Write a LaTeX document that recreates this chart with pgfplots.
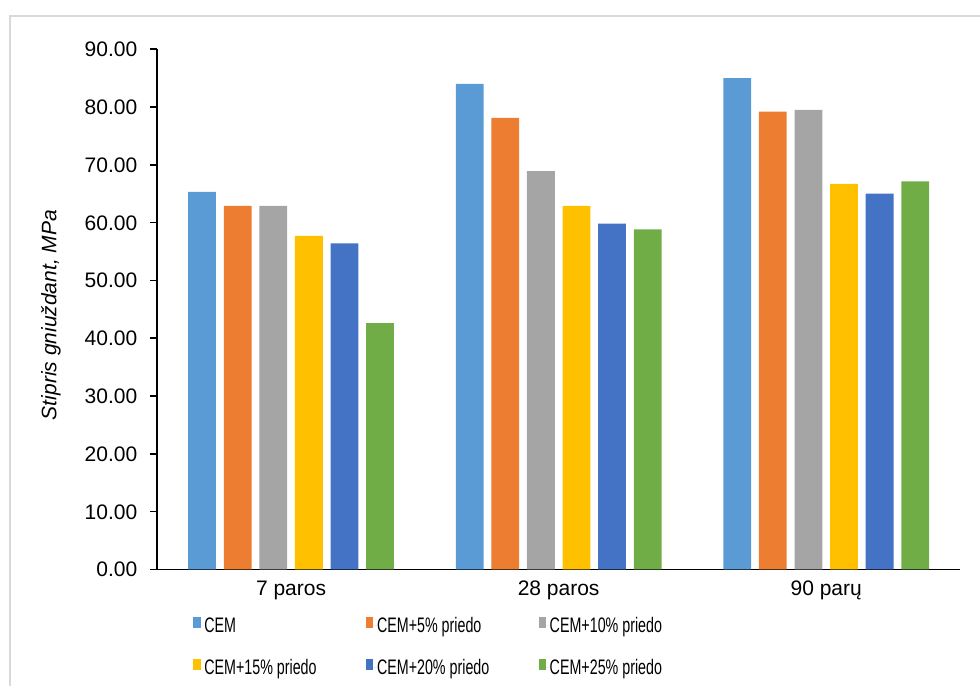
\documentclass[border=0pt]{standalone}
\usepackage{pgfplots}
\pgfplotsset{compat=1.18}
\usepackage{fontspec}
\setmainfont{Liberation Sans}

\definecolor{cemA}{HTML}{5B9BD5}
\definecolor{cemB}{HTML}{ED7D31}
\definecolor{cemC}{HTML}{A5A5A5}
\definecolor{cemD}{HTML}{FFC000}
\definecolor{cemE}{HTML}{4472C4}
\definecolor{cemF}{HTML}{70AD47}
\definecolor{frameGray}{HTML}{D9D9D9}

% narrow legend entries of equal width
\newcommand{\legtext}[1]{\makebox[80.85pt][l]{\scalebox{0.68}[1]{#1}}}

\pgfplotsset{
  legbar/.style={legend image code/.code={%
      \fill[##1] (0pt,-1.6pt) rectangle (3.7pt,3.9pt);
      \path (0pt,0pt) -- (5.5pt,0pt);}},
  cembar/.style={ybar, bar width=13.9pt, draw=none, fill=#1, legbar},
}

\begin{document}
\begin{tikzpicture}
\useasboundingbox (0pt,0pt) rectangle (490pt,343pt);
% chart area border
\draw[frameGray, line width=1pt] (5pt,0pt) -- (5pt,335pt) -- (490pt,335pt);
\begin{axis}[
  at={(78.65pt,58.35pt)}, anchor=south west,
  scale only axis, width=401.35pt, height=260.1pt,
  xmin=-0.5, xmax=2.5, ymin=0, ymax=90,
  axis x line*=bottom, axis y line*=left,
  axis line style={line width=0.8pt, black, -},
  xtick={0,1,2}, xticklabels={7 paros, 28 paros, 90 parų},
  x tick style={draw=none},
  ytick={0,10,...,90},
  y tick style={line width=0.8pt, black},
  ytick align=outside, major tick length=3.5pt,
  /pgf/number format/.cd, fixed, fixed zerofill, precision=2, assume math mode=true,
  /pgfplots/.cd,
  tick label style={font=\fontsize{10.5}{12.6}\selectfont},
  yticklabel style={anchor=base east, inner sep=0pt, yshift=-3.75pt, xshift=-6.3pt},
  xticklabel style={anchor=base, inner sep=0pt, yshift=-12.85pt},
  ylabel={\itshape Stipris gniuždant, MPa},
  ylabel style={font=\fontsize{10.5}{12.6}\selectfont, at={(axis description cs:-0.1324,0.4888)}, anchor=center},
  legend columns=3,
  legend style={at={(0.0449,-0.0921)}, anchor=north west, draw=none, fill=none,
    inner sep=0pt, outer sep=0pt, column sep=0pt, row sep=13.35pt,
    font=\fontsize{10.5}{12.6}\selectfont,
    nodes={inner sep=0pt, text height=7.5pt, text depth=0pt}},
]
\addplot[cembar=cemA, bar shift=-44.5pt] coordinates {(0,65.3) (1,84.0) (2,85.0)};
\addplot[cembar=cemB, bar shift=-26.7pt] coordinates {(0,62.9) (1,78.1) (2,79.2)};
\addplot[cembar=cemC, bar shift=-8.9pt]  coordinates {(0,62.9) (1,68.9) (2,79.5)};
\addplot[cembar=cemD, bar shift=8.9pt]   coordinates {(0,57.7) (1,62.9) (2,66.7)};
\addplot[cembar=cemE, bar shift=26.7pt]  coordinates {(0,56.4) (1,59.8) (2,65.0)};
\addplot[cembar=cemF, bar shift=44.5pt]  coordinates {(0,42.6) (1,58.8) (2,67.1)};
\legend{\legtext{CEM}, \legtext{CEM+5\% priedo}, \legtext{CEM+10\% priedo},
        \legtext{CEM+15\% priedo}, \legtext{CEM+20\% priedo}, \legtext{CEM+25\% priedo}}
\end{axis}
\end{tikzpicture}
\end{document}
